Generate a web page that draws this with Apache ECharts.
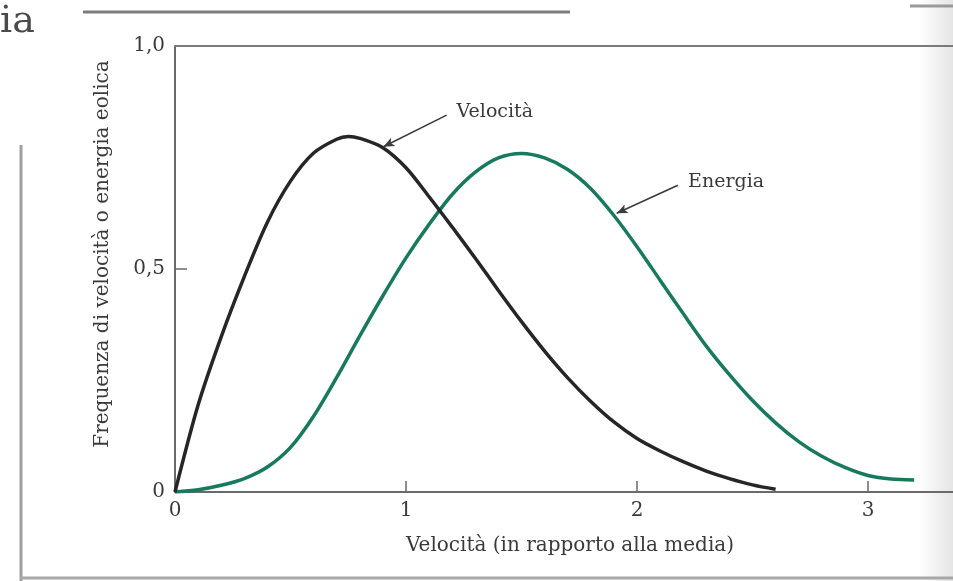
<!DOCTYPE html>
<html>
<head>
<meta charset="utf-8">
<style>
  html, body { margin: 0; padding: 0; background: #ffffff; }
  #chart { width: 953px; height: 581px; }
</style>
<script src="https://cdn.jsdelivr.net/npm/echarts@6/dist/echarts.min.js"></script>
</head>
<body>
<div id="chart"></div>
<script>
// ---- data ----
const velocityX = [0, 0.1, 0.2, 0.3, 0.4, 0.5, 0.6, 0.7, 0.75, 0.8, 0.9, 1.0, 1.1, 1.2, 1.3, 1.4, 1.5, 1.6, 1.7, 1.8, 1.9, 2.0, 2.1, 2.2, 2.3, 2.4, 2.5, 2.6];
const velocityY = [0, 0.195, 0.348, 0.483, 0.605, 0.697, 0.76, 0.791, 0.797, 0.793, 0.772, 0.727, 0.662, 0.594, 0.524, 0.452, 0.382, 0.316, 0.256, 0.203, 0.157, 0.12, 0.092, 0.068, 0.047, 0.03, 0.016, 0.006];

const energyX = [0, 0.1, 0.2, 0.3, 0.4, 0.5, 0.6, 0.7, 0.8, 0.9, 1.0, 1.1, 1.2, 1.3, 1.4, 1.5, 1.6, 1.7, 1.8, 1.9, 2.0, 2.1, 2.2, 2.3, 2.4, 2.5, 2.6, 2.7, 2.8, 2.9, 3.0, 3.1, 3.2];
const energyY = [0, 0.005, 0.015, 0.03, 0.056, 0.1, 0.17, 0.257, 0.35, 0.44, 0.525, 0.6, 0.667, 0.717, 0.749, 0.759, 0.749, 0.723, 0.68, 0.62, 0.55, 0.475, 0.4, 0.327, 0.263, 0.205, 0.155, 0.113, 0.08, 0.055, 0.037, 0.029, 0.027];

const xTicks = [0, 1, 2, 3];
const xTickLabels = ['0', '1', '2', '3'];
const yLabelValues = [0, 0.5, 1];
const yTickLabels = ['0', '0,5', '1,0'];
const yTickMarks = [0.5];

const seriesNames = ['Velocità', 'Energia'];
const xAxisTitle = 'Velocità (in rapporto alla media)';
const yAxisTitle = 'Frequenza di velocità o energia eolica';

// annotation anchors (data coordinates): [arrowStart, arrowEnd, labelAnchor]
const velocityNote = [[1.176, 0.845], [0.902, 0.774], [1.219, 0.852]];
const energyNote = [[2.177, 0.688], [1.912, 0.625], [2.221, 0.695]];

// ---- build ----
const SERIF = '"DejaVu Serif", "Liberation Serif", serif';
const TEXT = '#3a3a3a';
const AXIS = '#6a6a6a';

function pairs(xs, ys) { return xs.map((x, i) => [x, ys[i]]); }

function note(n, name) {
  return {
    markLine: {
      silent: true,
      symbol: ['none', 'arrow'],
      symbolSize: [7, 11],
      label: { show: false },
      lineStyle: { color: '#3c3c3c', width: 1.6, type: 'solid' },
      data: [[{ coord: n[0] }, { coord: n[1] }]]
    },
    markPoint: {
      silent: true,
      symbol: 'circle',
      symbolSize: 0,
      data: [{ coord: n[2], value: name }],
      label: {
        show: true, position: 'right', distance: 0,
        formatter: name, color: TEXT, fontFamily: SERIF, fontSize: 19
      }
    }
  };
}

const fmtX = v => { const i = xTicks.indexOf(v); return i >= 0 ? xTickLabels[i] : ''; };
const fmtY = v => { const i = yLabelValues.indexOf(v); return i >= 0 ? yTickLabels[i] : ''; };

const chart = echarts.init(document.getElementById('chart'), null, { renderer: 'canvas' });
chart.setOption({
  animation: false,
  backgroundColor: '#ffffff',
  grid: { left: 175, top: 46, right: 0, bottom: 89, containLabel: false },
  xAxis: [{
    type: 'value', min: 0, max: 3.368,
    name: xAxisTitle, nameLocation: 'middle', nameGap: 44,
    nameTextStyle: { color: TEXT, fontFamily: SERIF, fontSize: 20, padding: [0, 0, 0, 12] },
    axisLine: { show: true, onZero: false, lineStyle: { color: AXIS, width: 2 } },
    axisTick: { show: true, inside: true, length: 11, customValues: [1, 2, 3], lineStyle: { color: AXIS, width: 1.5 } },
    axisLabel: { show: true, customValues: xTicks, formatter: fmtX, margin: 9, color: TEXT, fontFamily: SERIF, fontSize: 20 },
    splitLine: { show: false }
  }, {
    type: 'value', min: 0, max: 3.368, position: 'top',
    axisLine: { show: true, onZero: false, lineStyle: { color: '#7a7a7a', width: 2 } },
    axisTick: { show: false }, axisLabel: { show: false }, splitLine: { show: false }
  }],
  yAxis: {
    type: 'value', min: 0, max: 1,
    name: yAxisTitle, nameLocation: 'middle', nameGap: 62, nameRotate: 90,
    nameTextStyle: { color: TEXT, fontFamily: SERIF, fontSize: 20, padding: [0, 0, 0, 30] },
    axisLine: { show: true, lineStyle: { color: AXIS, width: 2 } },
    axisTick: { show: true, inside: true, length: 12, customValues: yTickMarks, lineStyle: { color: AXIS, width: 1.5 } },
    axisLabel: { show: true, customValues: yLabelValues, formatter: fmtY, margin: 10, color: TEXT, fontFamily: SERIF, fontSize: 20 },
    splitLine: { show: false }
  },
  series: [
    Object.assign({
      name: seriesNames[0], type: 'line', smooth: 0.3, showSymbol: false,
      data: pairs(velocityX, velocityY),
      lineStyle: { color: '#262626', width: 3.5 }, z: 3
    }, note(velocityNote, seriesNames[0])),
    Object.assign({
      name: seriesNames[1], type: 'line', smooth: 0.3, showSymbol: false,
      data: pairs(energyX, energyY),
      lineStyle: { color: '#17795d', width: 3.5 }, z: 2
    }, note(energyNote, seriesNames[1]))
  ],
  graphic: [
    { type: 'text', left: 0, top: 3, style: { text: 'ia', font: '38px "DejaVu Serif", serif', fill: '#4a4a4a' } },
    { type: 'line', shape: { x1: 83, y1: 12, x2: 570, y2: 12 }, style: { stroke: '#7c7c7c', lineWidth: 3 } },
    { type: 'line', shape: { x1: 910, y1: 6, x2: 953, y2: 6 }, style: { stroke: '#9a9a9a', lineWidth: 3 } },
    { type: 'line', shape: { x1: 21, y1: 145, x2: 21, y2: 581 }, style: { stroke: '#a0a0a0', lineWidth: 3 } },
    { type: 'line', shape: { x1: 20, y1: 578, x2: 953, y2: 578 }, style: { stroke: '#a8a8a8', lineWidth: 3 } },
    { type: 'rect', shape: { x: 918, y: 0, width: 35, height: 581 }, z: -1,
      style: { fill: new echarts.graphic.LinearGradient(0, 0, 1, 0, [
        { offset: 0, color: 'rgba(0,0,0,0)' }, { offset: 1, color: 'rgba(0,0,0,0.10)' }]) } }
  ]
});
</script>
</body>
</html>
